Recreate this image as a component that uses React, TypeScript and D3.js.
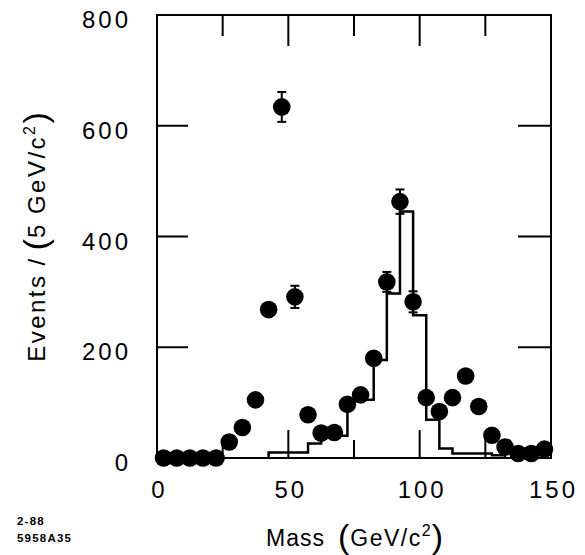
import React from "react";
import * as d3 from "d3";

// ---- data ----
const massBins = [2.5, 7.5, 12.5, 17.5, 22.5, 27.5, 32.5, 37.5, 42.5, 47.5, 52.5, 57.5, 62.5, 67.5, 72.5, 77.5, 82.5, 87.5, 92.5, 97.5, 102.5, 107.5, 112.5, 117.5, 122.5, 127.5, 132.5, 137.5, 142.5, 147.5];
const events = [0, 0, 0, 0, 0, 29, 55, 105, 268, 634, 291, 78, 45, 46, 97, 114, 180, 318, 463, 282, 109, 84, 109, 148, 93, 41, 20, 8, 8, 16];
const eventErrors = [0, 0, 0, 0, 0, 0, 0, 0, 0, 27, 20, 0, 0, 0, 0, 0, 0, 18, 22, 19, 0, 0, 0, 0, 0, 0, 0, 0, 0, 0];

const histEdges = [42.5, 57.5, 62.5, 72.5, 82.5, 87.5, 92.5, 97.5, 102.5, 107.5, 112.5, 127.5, 132.5];
const histValues = [10, 26, 40, 105, 177, 297, 445, 258, 69, 17, 8, 5];

const xTicksMajor = [0, 50, 100, 150];
const xTicksMinor = [25, 75, 125];
const yTicks = [0, 200, 400, 600, 800];

const FONT = "'Liberation Sans', Arial, Helvetica, sans-serif";

export default function App() {
  const W = 585, H = 555;
  const x = d3.scaleLinear().domain([0, 150]).range([157, 551]);
  const y = d3.scaleLinear().domain([0, 800]).range([458, 15]);

  // step histogram path
  const pts: [number, number][] = [];
  pts.push([histEdges[0], 0]);
  for (let i = 0; i < histValues.length; i++) {
    pts.push([histEdges[i], histValues[i]]);
    pts.push([histEdges[i + 1], histValues[i]]);
  }
  pts.push([histEdges[histEdges.length - 1], 0]);
  const line = d3.line<[number, number]>().x(d => x(d[0])).y(d => y(d[1]));
  const histPath = line(pts) || "";

  const x0 = x(0), x1 = x(150), y0 = y(0), y1 = y(800);

  return (
    <svg width={W} height={H} style={{ position: "absolute", left: 0, top: 0, background: "#fff" }} fontFamily={FONT}>
      <rect x={0} y={0} width={W} height={H} fill="#fff" />
      {/* frame */}
      <rect x={x0} y={y1} width={x1 - x0} height={y0 - y1} fill="none" stroke="#000" strokeWidth={2} />
      {/* x ticks top and bottom */}
      {xTicksMajor.filter(t => t > 0 && t < 150).map(t => (
        <g key={"xm" + t}>
          <line x1={x(t)} x2={x(t)} y1={y1} y2={y1 + 31} stroke="#000" strokeWidth={2} />
          <line x1={x(t)} x2={x(t)} y1={y0} y2={y0 - 28} stroke="#000" strokeWidth={2} />
        </g>
      ))}
      {xTicksMinor.map(t => (
        <g key={"xn" + t}>
          <line x1={x(t)} x2={x(t)} y1={y1} y2={y1 + 21} stroke="#000" strokeWidth={2} />
          <line x1={x(t)} x2={x(t)} y1={y0} y2={y0 - 18} stroke="#000" strokeWidth={2} />
        </g>
      ))}
      {/* y ticks left and right */}
      {yTicks.filter(t => t > 0 && t < 800).map(t => (
        <g key={"y" + t}>
          <line x1={x0} x2={x0 + 31} y1={y(t)} y2={y(t)} stroke="#000" strokeWidth={2} />
          <line x1={x1} x2={x1 - 33} y1={y(t)} y2={y(t)} stroke="#000" strokeWidth={2} />
        </g>
      ))}
      {/* histogram */}
      <path d={histPath} fill="none" stroke="#000" strokeWidth={2.5} />
      {/* error bars */}
      {massBins.map((m, i) => eventErrors[i] > 0 ? (
        <g key={"e" + i} stroke="#000" strokeWidth={2}>
          <line x1={x(m)} x2={x(m)} y1={y(events[i] - eventErrors[i])} y2={y(events[i] + eventErrors[i])} />
          <line x1={x(m) - 4.5} x2={x(m) + 4.5} y1={y(events[i] - eventErrors[i])} y2={y(events[i] - eventErrors[i])} />
          <line x1={x(m) - 4.5} x2={x(m) + 4.5} y1={y(events[i] + eventErrors[i])} y2={y(events[i] + eventErrors[i])} />
        </g>
      ) : null)}
      {/* points */}
      {massBins.map((m, i) => (
        <circle key={"p" + i} cx={x(m)} cy={y(events[i])} r={8.8} fill="#000" />
      ))}
      {/* y tick labels */}
      {yTicks.map(t => (
        <text key={"yl" + t} x={131} y={y(t) + 13} textAnchor="end" fontSize={24} letterSpacing={3} fill="#000">{t}</text>
      ))}
      {/* x tick labels */}
      {xTicksMajor.map(t => (
        <text key={"xl" + t} x={x(t) + 2.5} y={498} textAnchor="middle" fontSize={24} letterSpacing={3} fill="#000">{t}</text>
      ))}
      {/* x axis title */}
      <text x={266} y={546} fontSize={23} letterSpacing={1} fill="#000">
        Mass
        <tspan x={338} fontSize={34} letterSpacing={0} dy={2}>(</tspan>
        <tspan fontSize={23} letterSpacing={1.5} dy={-2} dx={1}>GeV/c</tspan>
        <tspan fontSize={16} dy={-10}>2</tspan>
        <tspan fontSize={34} letterSpacing={0} dy={12}>)</tspan>
      </text>
      {/* y axis title */}
      <text transform="translate(45,237) rotate(-90)" textAnchor="middle" fontSize={24} letterSpacing={2.5} fill="#000">
        Events
        <tspan dx={8}>/</tspan>
        <tspan fontSize={34} letterSpacing={0} dy={2} dx={6}>(</tspan>
        <tspan fontSize={24} letterSpacing={2.5} dy={-2} dx={1}>5</tspan>
        <tspan dx={8}>GeV/c</tspan>
        <tspan fontSize={16} dy={-10}>2</tspan>
        <tspan fontSize={34} letterSpacing={0} dy={12}>)</tspan>
      </text>
      {/* figure id */}
      <text x={17} y={525} fontSize={11.5} letterSpacing={1.2} fontWeight="bold" fill="#000">2-88</text>
      <text x={17} y={542} fontSize={11.5} letterSpacing={1.2} fontWeight="bold" fill="#000">5958A35</text>
    </svg>
  );
}
